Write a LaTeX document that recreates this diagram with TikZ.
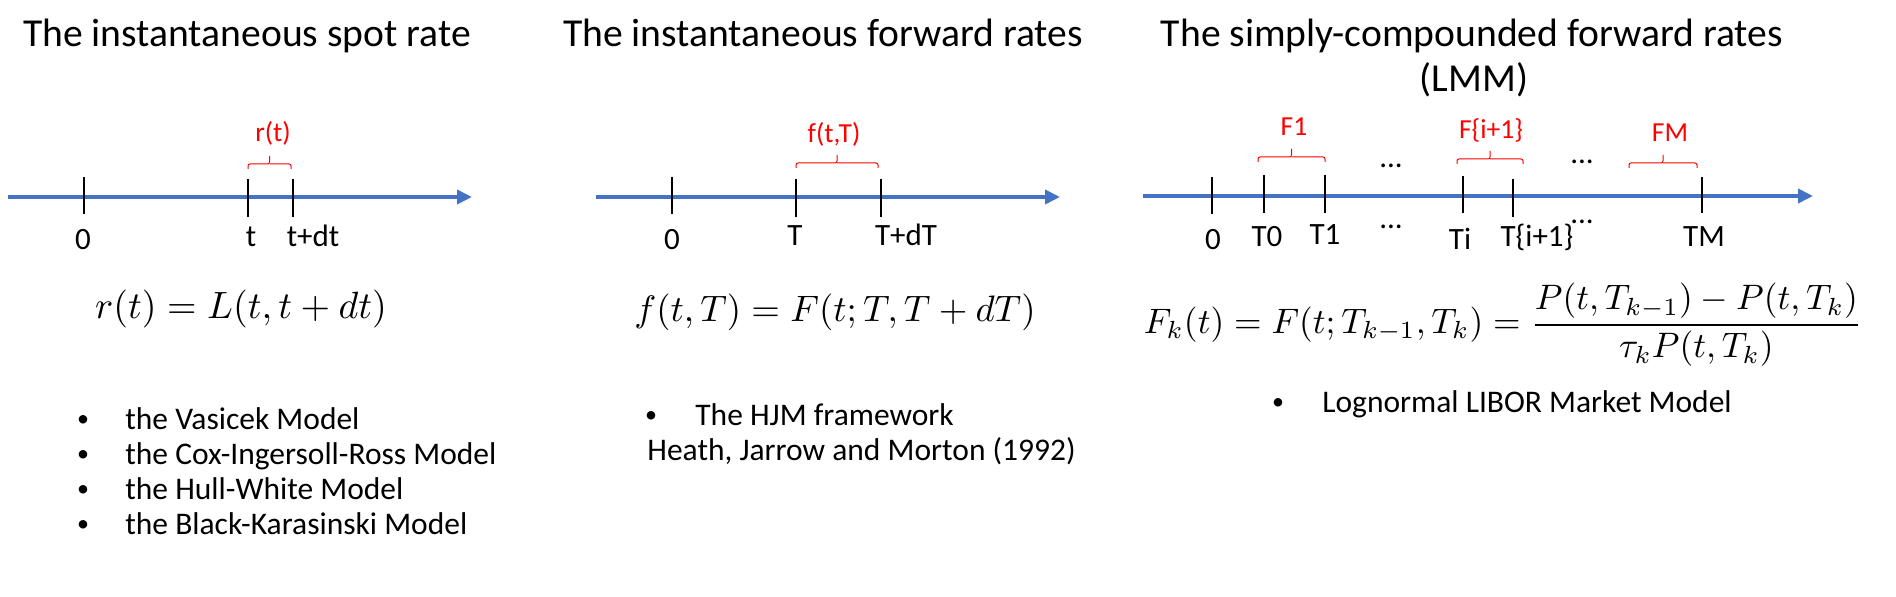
\documentclass[tikz,border=0pt]{standalone}
\usepackage{amsmath}
\usepackage{graphicx}
\usepackage{fontspec}
\setmainfont{Carlito}
\usetikzlibrary{arrows.meta}
\definecolor{axisblue}{HTML}{4472C4}
\definecolor{lblred}{HTML}{FF0000}
\newcommand\topbrace[3]{%
  \draw[bracepath] (#1,#3+5) -- (#1,#3) -- ({(#1+#2)/2},#3) -- ({(#1+#2)/2},#3-8);
  \draw[bracepath] ({(#1+#2)/2},#3) -- (#2,#3) -- (#2,#3+5);}
\newcommand\eqscale[2]{\scalebox{#1}{#2}}
\begin{document}
\begin{tikzpicture}[x=0.5pt,y=-0.5pt,
  axisline/.style={draw=axisblue, line width=2.25pt, -{Triangle[length=7.5pt,width=7pt]}},
  tickline/.style={draw=black, line width=0.6pt},
  bracepath/.style={draw=lblred, line width=0.5pt, rounded corners=1pt},
  titletext/.style={font=\fontsize{19.8}{24}\selectfont, anchor=base, inner sep=0pt},
  ticklabel/.style={font=\fontsize{15.5}{18}\selectfont, anchor=base, inner sep=0pt},
  redlabel/.style={font=\fontsize{13.75}{16}\selectfont, text=lblred, anchor=base, inner sep=0pt},
  bullettext/.style={font=\fontsize{15.75}{18}\selectfont, anchor=base west, inner sep=0pt},
  bulletdot/.style={font=\fontsize{12}{14}\selectfont, anchor=base, inner sep=0pt},
  eqtext/.style={inner sep=0pt},
]
\fill[white] (0,0) rectangle (1896,597);
\useasboundingbox (0,0) rectangle (1896,597);

% ---------- titles
\node[titletext] (title1) at (247,47) {The instantaneous spot rate};
\node[titletext] (title2) at (823,47) {The instantaneous forward rates};
\node[titletext] (title3) at (1472,47) {The simply-compounded forward rates};
\node[titletext] (title3b) at (1474,92) {(LMM)};

% ---------- panel 1
\draw[axisline] (8,197) -- (472,197);
\draw[tickline] (84,177) -- (84,214);
\draw[tickline] (248,179) -- (248,217);
\draw[tickline] (293,179) -- (293,217);
\node[ticklabel] (p1zero) at (83,250) {0};
\node[ticklabel] (p1t) at (251,247) {t};
\node[ticklabel] (p1tdt) at (313,247) {t+dt};
\topbrace{248}{291}{164}
\node[redlabel] (p1rt) at (273,142) {r(t)};
\node[eqtext] (eqr) at (241,309) {\eqscale{1.9}{$r(t)=L(t,t+dt)$}};
\node[bulletdot] (b1a) at (83,427) {•};
\node[bullettext] (l1a) at (125,430) {the Vasicek Model};
\node[bulletdot] (b1b) at (83,462) {•};
\node[bullettext] (l1b) at (125,465) {the Cox-Ingersoll-Ross Model};
\node[bulletdot] (b1c) at (83,497) {•};
\node[bullettext] (l1c) at (125,500) {the Hull-White Model};
\node[bulletdot] (b1d) at (83,532) {•};
\node[bullettext] (l1d) at (125,535) {the Black-Karasinski Model};

% ---------- panel 2
\draw[axisline] (596,197) -- (1060,197);
\draw[tickline] (672,177) -- (672,214);
\draw[tickline] (796,179) -- (796,217);
\draw[tickline] (881,179) -- (881,217);
\node[ticklabel] (p2zero) at (672,250) {0};
\node[ticklabel] (p2T) at (795,246) {T};
\node[ticklabel] (p2TdT) at (906,246) {T+dT};
\topbrace{796}{878}{163}
\node[redlabel] (p2ftT) at (834,143) {f(t,T)};
\node[eqtext] (eqf) at (835,312) {\eqscale{1.84}{$f(t,T)=F(t;T,T+dT)$}};
\node[bulletdot] (b2a) at (651,423) {•};
\node[bullettext] (l2a) at (695,426) {The HJM framework};
\node[bullettext] (l2b) at (647,461) {Heath, Jarrow and Morton (1992)};

% ---------- panel 3
\draw[axisline] (1143,196) -- (1813,196);
\draw[tickline] (1212,177) -- (1212,214);
\draw[tickline] (1264,175) -- (1264,213);
\draw[tickline] (1325,175) -- (1325,213);
\draw[tickline] (1463,176) -- (1463,213);
\draw[tickline] (1513,179) -- (1513,217);
\draw[tickline] (1702,177) -- (1702,213);
\node[ticklabel] (p3zero) at (1213,250) {0};
\node[ticklabel] (p3T0) at (1267,247) {T0};
\node[ticklabel] (p3T1) at (1325,245) {T1};
\node[ticklabel] (p3Ti) at (1460,250) {Ti};
\node[ticklabel] (p3Ti1) at (1537,247) {T\{i+1\}};
\node[ticklabel] (p3TM) at (1704,247) {TM};
\node[ticklabel] (dotsa) at (1391,168) {...};
\node[ticklabel] (dotsb) at (1391,229) {...};
\node[ticklabel] (dotsc) at (1582,164) {...};
\node[ticklabel] (dotsd) at (1582,224) {...};
\topbrace{1258}{1325}{157}
\topbrace{1457}{1523}{159}
\topbrace{1629}{1697}{163}
\node[redlabel] (p3F1) at (1294,136) {F1};
\node[redlabel] (p3Fi1) at (1491,139) {F\{i+1\}};
\node[redlabel] (p3FM) at (1670,142) {FM};
\node[eqtext] (eqF) at (1503,325) {\eqscale{1.77}{$\displaystyle F_k(t)=F(t;T_{k-1},T_k)=\frac{P(t,T_{k-1})-P(t,T_k)}{\tau_kP(t,T_k)}$}};
\node[bulletdot] (b3a) at (1278,410) {•};
\node[bullettext] (l3a) at (1322,413) {Lognormal LIBOR Market Model};
\end{tikzpicture}
\end{document}
